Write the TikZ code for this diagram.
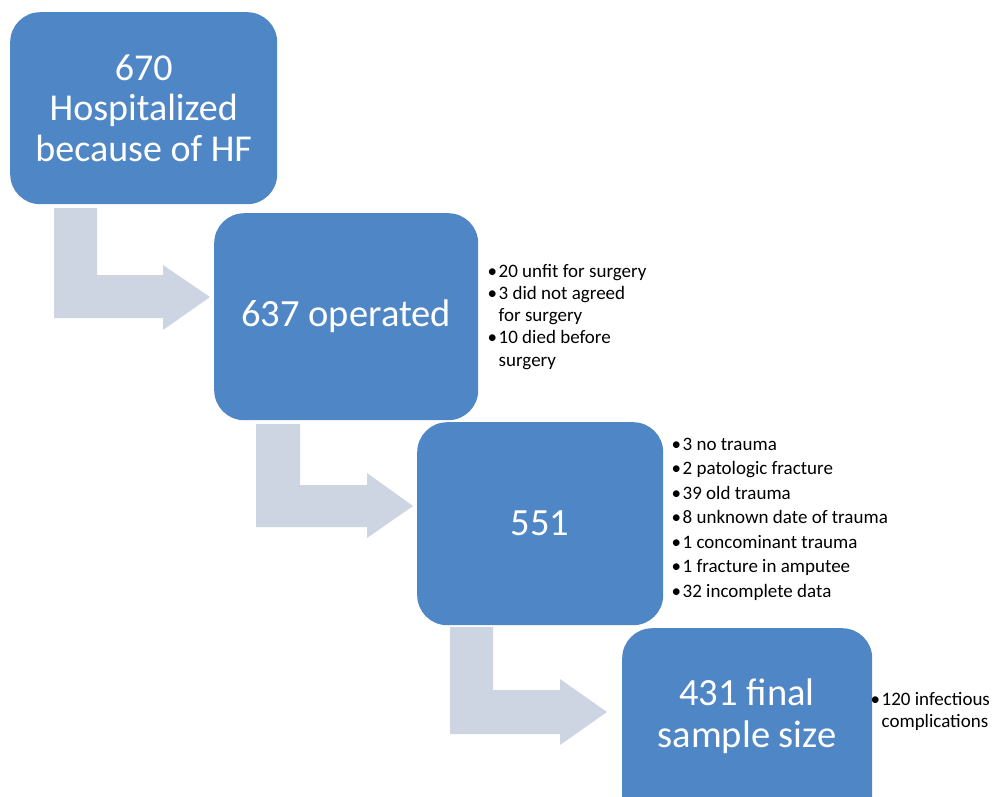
\documentclass[tikz,border=0pt]{standalone}
\usepackage{fontspec}
\setmainfont{Carlito}
\definecolor{boxblue}{RGB}{79,134,198}
\definecolor{arrowgrey}{RGB}{205,212,226}
\tikzset{
  flowbox/.style={rectangle, rounded corners=30pt, fill=boxblue, draw=none, inner sep=0pt,
    text=white, align=center, anchor=north west, font=\fontsize{38.5}{42}\selectfont},
  bentarrow/.style={fill=arrowgrey, draw=none},
  sidelist/.style={anchor=base west, inner sep=0pt, text=black},
}
\begin{document}
\begin{tikzpicture}[x=1pt,y=-1pt]
\useasboundingbox (0,0) rectangle (992,796);
% bent arrows
\fill[bentarrow] (54,208) -- (97,208) -- (97,275) -- (163,275) -- (163,265) -- (210,297) -- (163,330) -- (163,318) -- (54,318) -- cycle;
\fill[bentarrow] (256,424) -- (300,424) -- (300,485) -- (367,485) -- (367,473) -- (413,506) -- (367,538) -- (367,527) -- (256,527) -- cycle;
\fill[bentarrow] (450,627) -- (493,627) -- (493,690) -- (560,690) -- (560,679) -- (607,712) -- (560,745) -- (560,734) -- (450,734) -- cycle;
% boxes
\node[flowbox, minimum width=267pt, minimum height=192pt, font=\fontsize{38}{40.5}\selectfont] (b1) at (10,12) {670\\Hospitalized\\because of HF};
\node[flowbox, minimum width=264pt, minimum height=207pt] (b2) at (214,213) {637 operated};
\node[flowbox, minimum width=246pt, minimum height=203pt] (b3) at (417,422) {551};
\begin{scope}
\clip (0,0) rectangle (992,796);
\node[flowbox, minimum width=250pt, minimum height=210pt] (b4) at (622,628) {};
\end{scope}
\node[text=white, align=center, font=\fontsize{38.5}{42}\selectfont, inner sep=0pt] (t4) at (747,716) {431 final\\sample size};
% side lists
\node[sidelist] (l1) at (487.5,277) {\fontsize{19}{22.3}\selectfont
  \begin{tabular}[t]{@{}l@{\hspace{1.5pt}}l@{}}
  \textbullet & 20 unfit for surgery\\
  \textbullet & 3 did not agreed\\
              & for surgery\\
  \textbullet & 10 died before\\
              & surgery
  \end{tabular}};
\node[sidelist] (l2) at (671.5,450) {\fontsize{19}{24.5}\selectfont
  \begin{tabular}[t]{@{}l@{\hspace{1.5pt}}l@{}}
  \textbullet & 3 no trauma\\
  \textbullet & 2 patologic fracture\\
  \textbullet & 39 old trauma\\
  \textbullet & 8 unknown date of trauma\\
  \textbullet & 1 concominant trauma\\
  \textbullet & 1 fracture in amputee\\
  \textbullet & 32 incomplete data
  \end{tabular}};
\node[sidelist] (l4) at (870.5,705) {\fontsize{19}{22}\selectfont
  \begin{tabular}[t]{@{}l@{\hspace{1.5pt}}l@{}}
  \textbullet & 120 infectious\\
              & complications
  \end{tabular}};
\end{tikzpicture}
\end{document}
